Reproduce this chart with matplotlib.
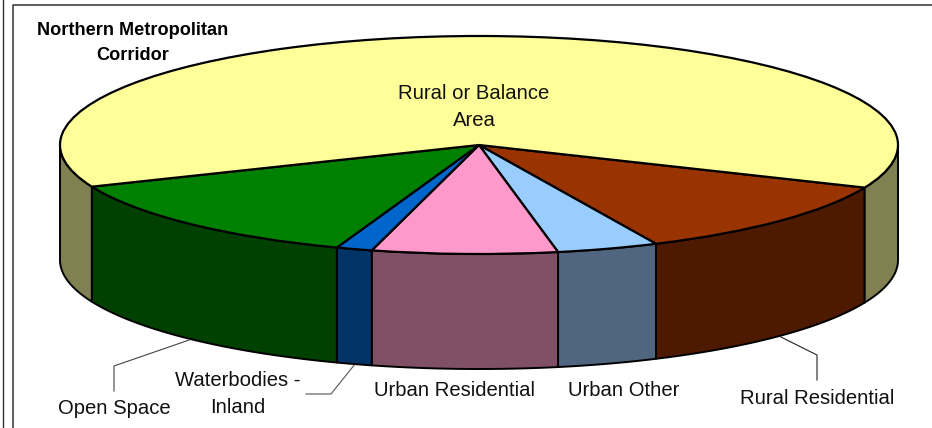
import numpy as np
import matplotlib
matplotlib.use("Agg")
import matplotlib.pyplot as plt
from matplotlib.patches import Wedge, Polygon
from matplotlib.transforms import Affine2D

categories = ["Rural Residential", "Urban Other", "Urban Residential",
              "Waterbodies -\nInland", "Open Space", "Rural or Balance\nArea"]
values = [11.67, 3.92, 7.14, 1.39, 13.25, 62.63]
top_colors = ["#993300", "#99CCFF", "#FF99CC", "#0066CC", "#008000", "#FFFF99"]
side_colors = ["#4D1A00", "#506680", "#805066", "#003366", "#004000", "#808050"]

plt.rcParams["font.family"] = ["Liberation Sans", "DejaVu Sans"]
W, H = 932, 428
CX, CY, RX, RY, DEPTH = 479, 145, 419, 109, 115
START = 23.0

fig = plt.figure(figsize=(W / 100, H / 100), dpi=100)
ax = fig.add_axes([0, 0, 1, 1])
ax.set_xlim(0, W)
ax.set_ylim(H, 0)
ax.axis("off")

# page frame
ax.plot([2.5, 2.5], [0, H], color="#333333", lw=1.0)
ax.plot([13, 13, W], [H, 5, 5], color="#333333", lw=1.1)

angles = np.concatenate([[0], np.cumsum(values)]) / sum(values) * 360 + START
xy = lambda t: (CX + RX * np.cos(np.radians(t)), CY + RY * np.sin(np.radians(t)))


def side(t0, t1, color):
    t = np.linspace(t0, t1, 100)
    x, y = xy(t)
    pts = np.r_[np.c_[x, y], np.c_[x, y + DEPTH][::-1]]
    ax.add_patch(Polygon(pts, closed=True, fc=color, ec="black", lw=1.4,
                         joinstyle="round"))


# visible side walls: front half only
for i, c in enumerate(side_colors):
    t0, t1 = angles[i], angles[i + 1]
    if i == len(values) - 1:
        side(t0, 180, c)
        side(360, t1, c)
    else:
        side(t0, t1, c)

# top face
unit = Affine2D().scale(RX, RY).translate(CX, CY) + ax.transData
for i, c in enumerate(top_colors):
    ax.add_patch(Wedge((0, 0), 1, angles[i], angles[i + 1], fc=c, ec="black",
                       lw=1.6, transform=unit, joinstyle="round"))


def anchor(i):
    x, y = xy((angles[i] + angles[i + 1]) / 2)
    return x, y + DEPTH


def leader(i, elbow, end, color):
    ax_, ay_ = anchor(i)
    ax.plot([ax_, elbow[0], end[0]], [ay_ + 1, elbow[1], end[1]], color=color, lw=0.8)


leader(0, (817, 355), (817, 380), "#222222")
leader(3, (331, 394), (306, 394), "#555555")
leader(4, (114, 366), (114, 391), "#444444")

fs = 14.6
style = dict(ha="center", va="center", fontsize=fs, color="#111111", linespacing=1.55)
positions = [(817, 398), (624, 391), (455, 391), (238, 394), (114, 409), (474, 107)]
for label, (x, y) in zip(categories, positions):
    ax.text(x, y, label, **style)

ax.text(133, 43, "Northern Metropolitan\nCorridor", ha="center", va="center",
        fontsize=13.1, fontweight="bold", color="black", linespacing=1.55)

fig.savefig("out.png", dpi=100)
